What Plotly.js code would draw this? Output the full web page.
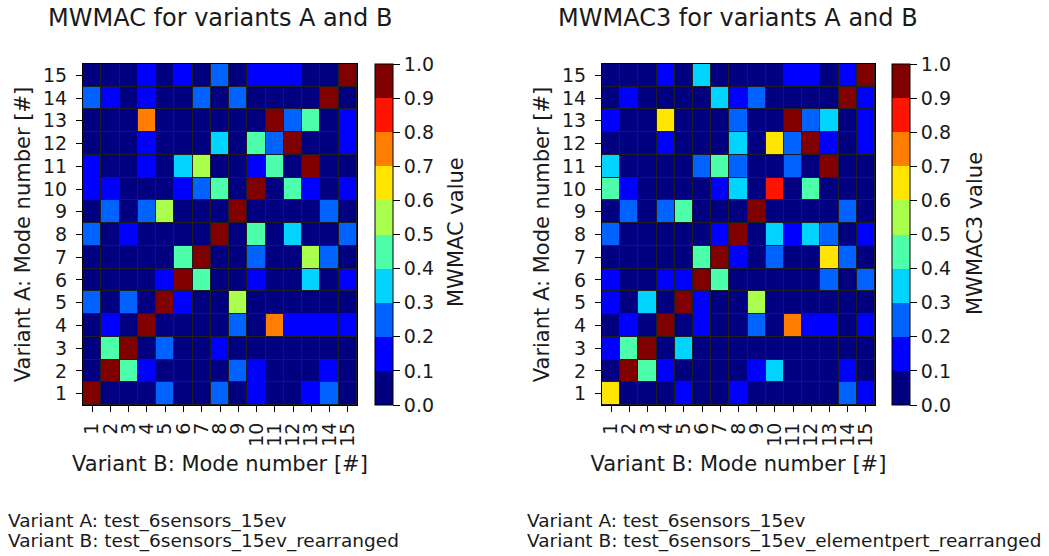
<!DOCTYPE html>
<html>
<head>
<meta charset="utf-8">
<script src="https://cdn.plot.ly/plotly-3.0.1.min.js"></script>
<style>html,body{margin:0;padding:0;background:#fff;}#chart{width:1049px;height:556px;}</style>
</head>
<body>
<div id="chart"></div>
<script>
// Mode numbers (tick labels)
const modesA = [1,2,3,4,5,6,7,8,9,10,11,12,13,14,15];
const modesB = [1,2,3,4,5,6,7,8,9,10,11,12,13,14,15];

// MWMAC values: rows = Variant A mode 1..15, columns = Variant B mode 1..15
const mwmac = [
  [0.98,0.04,0.04,0.04,0.25,0.04,0.04,0.25,0.04,0.15,0.04,0.04,0.15,0.25,0.04],
  [0.04,0.98,0.45,0.15,0.04,0.04,0.04,0.04,0.25,0.15,0.04,0.04,0.04,0.15,0.04],
  [0.04,0.45,0.98,0.04,0.25,0.04,0.04,0.15,0.04,0.04,0.04,0.04,0.04,0.04,0.04],
  [0.04,0.15,0.04,0.98,0.04,0.04,0.04,0.04,0.25,0.04,0.75,0.15,0.15,0.15,0.15],
  [0.25,0.04,0.25,0.04,0.98,0.15,0.04,0.04,0.55,0.04,0.04,0.04,0.04,0.04,0.04],
  [0.04,0.04,0.04,0.04,0.15,0.98,0.45,0.04,0.04,0.15,0.04,0.04,0.35,0.04,0.15],
  [0.04,0.04,0.04,0.04,0.04,0.45,0.98,0.04,0.04,0.25,0.04,0.04,0.55,0.25,0.04],
  [0.25,0.04,0.15,0.04,0.04,0.04,0.04,0.98,0.04,0.45,0.04,0.35,0.04,0.04,0.25],
  [0.04,0.25,0.04,0.25,0.55,0.04,0.04,0.04,0.98,0.04,0.04,0.04,0.04,0.25,0.04],
  [0.15,0.15,0.04,0.04,0.04,0.15,0.25,0.45,0.04,0.98,0.04,0.45,0.15,0.04,0.15],
  [0.15,0.04,0.04,0.15,0.04,0.35,0.55,0.04,0.04,0.15,0.45,0.04,0.98,0.04,0.04],
  [0.04,0.04,0.04,0.15,0.04,0.04,0.04,0.35,0.04,0.45,0.25,0.98,0.04,0.04,0.15],
  [0.04,0.04,0.04,0.75,0.04,0.04,0.04,0.04,0.04,0.04,0.98,0.25,0.45,0.04,0.15],
  [0.25,0.15,0.04,0.15,0.04,0.04,0.25,0.04,0.25,0.04,0.04,0.04,0.04,0.98,0.04],
  [0.04,0.04,0.04,0.15,0.04,0.15,0.04,0.25,0.04,0.15,0.15,0.15,0.04,0.04,0.98]
];

// MWMAC3 values: rows = Variant A mode 1..15, columns = Variant B mode 1..15
const mwmac3 = [
  [0.65,0.04,0.04,0.04,0.15,0.04,0.04,0.15,0.04,0.04,0.04,0.04,0.04,0.25,0.15],
  [0.04,0.98,0.45,0.15,0.04,0.04,0.04,0.04,0.15,0.35,0.04,0.04,0.04,0.15,0.04],
  [0.15,0.45,0.98,0.04,0.35,0.04,0.04,0.04,0.04,0.04,0.04,0.04,0.04,0.04,0.04],
  [0.04,0.15,0.04,0.98,0.04,0.15,0.04,0.04,0.25,0.04,0.75,0.15,0.15,0.04,0.15],
  [0.15,0.04,0.35,0.04,0.98,0.15,0.04,0.04,0.55,0.04,0.04,0.04,0.04,0.04,0.04],
  [0.15,0.04,0.04,0.15,0.15,0.98,0.45,0.04,0.04,0.04,0.04,0.04,0.25,0.04,0.25],
  [0.04,0.04,0.04,0.04,0.04,0.45,0.98,0.15,0.04,0.25,0.04,0.04,0.65,0.25,0.04],
  [0.25,0.04,0.04,0.04,0.04,0.04,0.15,0.98,0.04,0.35,0.15,0.35,0.25,0.04,0.15],
  [0.04,0.25,0.04,0.25,0.45,0.04,0.04,0.04,0.98,0.04,0.04,0.04,0.04,0.25,0.04],
  [0.45,0.15,0.04,0.04,0.04,0.04,0.15,0.35,0.04,0.85,0.04,0.45,0.04,0.04,0.04],
  [0.35,0.04,0.04,0.04,0.04,0.25,0.45,0.25,0.04,0.04,0.25,0.04,0.98,0.04,0.04],
  [0.04,0.04,0.04,0.15,0.04,0.04,0.04,0.35,0.04,0.65,0.25,0.98,0.15,0.04,0.15],
  [0.15,0.04,0.04,0.65,0.04,0.04,0.04,0.25,0.04,0.04,0.98,0.25,0.35,0.04,0.15],
  [0.04,0.15,0.04,0.04,0.04,0.04,0.35,0.15,0.25,0.04,0.04,0.04,0.04,0.98,0.15],
  [0.04,0.04,0.04,0.15,0.04,0.35,0.04,0.04,0.04,0.04,0.15,0.15,0.04,0.15,0.98]
];

// Colorbar tick values / labels
const cbTicks = [0,0.1,0.2,0.3,0.4,0.5,0.6,0.7,0.8,0.9,1.0];
const cbLabels = ['0.0','0.1','0.2','0.3','0.4','0.5','0.6','0.7','0.8','0.9','1.0'];

// Discrete jet colormap, 10 levels
const jet10 = ['#000080','#0000ff','#0063ff','#00d4ff','#4dffaa','#aaff4d','#ffe500','#ff7d00','#ff1400','#800000'];
const colorscale = [];
jet10.forEach((c, i) => { colorscale.push([i / 10, c]); colorscale.push([(i + 1) / 10, c]); });

const W = 1049, H = 556;
const FONT = 'DejaVu Sans';
const TXT = '#1a1a1a';
const TOP = 64, BOT = 405;

function cb(x) {
  return {
    x: x / W, xanchor: 'left', xpad: 0,
    y: 1 - BOT / H, yanchor: 'bottom', ypad: 0,
    len: (BOT - TOP) / H, lenmode: 'fraction',
    thickness: 18, thicknessmode: 'pixels',
    outlinewidth: 1, outlinecolor: '#000',
    tickmode: 'array', tickvals: cbTicks, ticktext: cbLabels,
    ticks: 'outside', ticklen: 7, tickcolor: '#000',
    tickfont: {family: FONT, size: 19, color: TXT}
  };
}

const traces = [
  {type: 'heatmap', x: modesB, y: modesA, z: mwmac, zmin: 0, zmax: 1, colorscale: colorscale,
   xgap: 1, ygap: 1, xaxis: 'x', yaxis: 'y', hoverinfo: 'skip', colorbar: cb(375)},
  {type: 'heatmap', x: modesB, y: modesA, z: mwmac3, zmin: 0, zmax: 1, colorscale: colorscale,
   xgap: 1, ygap: 1, xaxis: 'x2', yaxis: 'y2', hoverinfo: 'skip', colorbar: cb(892)}
];

function xax(d0, d1, anchor) {
  return {domain: [d0 / W, d1 / W], anchor: anchor, range: [0.5, 15.5],
    tickmode: 'array', tickvals: modesB, ticktext: modesB.map(String), tickangle: -90,
    ticks: 'outside', ticklen: 6, tickcolor: '#000', showgrid: false, zeroline: false,
    showline: true, mirror: true, linecolor: '#000', linewidth: 1,
    ticklabelstandoff: 3,
    tickfont: {family: FONT, size: 19, color: TXT},
    title: {text: 'Variant B: Mode number [#]', font: {family: FONT, size: 21, color: TXT}, standoff: 10}};
}
function yax(anchor) {
  return {domain: [1 - BOT / H, 1 - TOP / H], anchor: anchor, range: [0.5, 15.5],
    tickmode: 'array', tickvals: modesA, ticktext: modesA.map(String),
    ticks: 'outside', ticklen: 6, tickcolor: '#000', showgrid: false, zeroline: false,
    showline: true, mirror: true, linecolor: '#000', linewidth: 1,
    ticklabelstandoff: 5,
    tickfont: {family: FONT, size: 19, color: TXT},
    title: {text: 'Variant A: Mode number [#]', font: {family: FONT, size: 21, color: TXT}, standoff: 6}};
}

function ann(text, x, y, size, opts) {
  return Object.assign({text: text, xref: 'paper', yref: 'paper', x: x / W, y: 1 - y / H,
    xanchor: 'left', yanchor: 'middle', showarrow: false, font: {family: FONT, size: size, color: TXT}}, opts || {});
}

const layout = {
  width: W, height: H,
  margin: {l: 0, r: 0, t: 0, b: 0},
  paper_bgcolor: '#fff', plot_bgcolor: '#1e1e1e',
  showlegend: false,
  xaxis: xax(83, 357, 'y'),
  yaxis: yax('x'),
  xaxis2: xax(602, 875, 'y2'),
  yaxis2: yax('x2'),
  annotations: [
    ann('MWMAC for variants A and B', 220, 18, 24, {xanchor: 'center'}),
    ann('MWMAC3 for variants A and B', 738, 18, 24, {xanchor: 'center'}),
    ann('MWMAC value', 456, 232, 21, {xanchor: 'center', textangle: -90}),
    ann('MWMAC3 value', 975, 234, 21, {xanchor: 'center', textangle: -90}),
    ann('Variant A: test_6sensors_15ev', 6, 521, 18.5),
    ann('Variant B: test_6sensors_15ev_rearranged', 6, 541, 18.5),
    ann('Variant A: test_6sensors_15ev', 525, 521, 18.5),
    ann('Variant B: test_6sensors_15ev_elementpert_rearranged', 525, 541, 18.5)
  ]
};

Plotly.newPlot('chart', traces, layout, {displayModeBar: false, staticPlot: true});
</script>
</body>
</html>
